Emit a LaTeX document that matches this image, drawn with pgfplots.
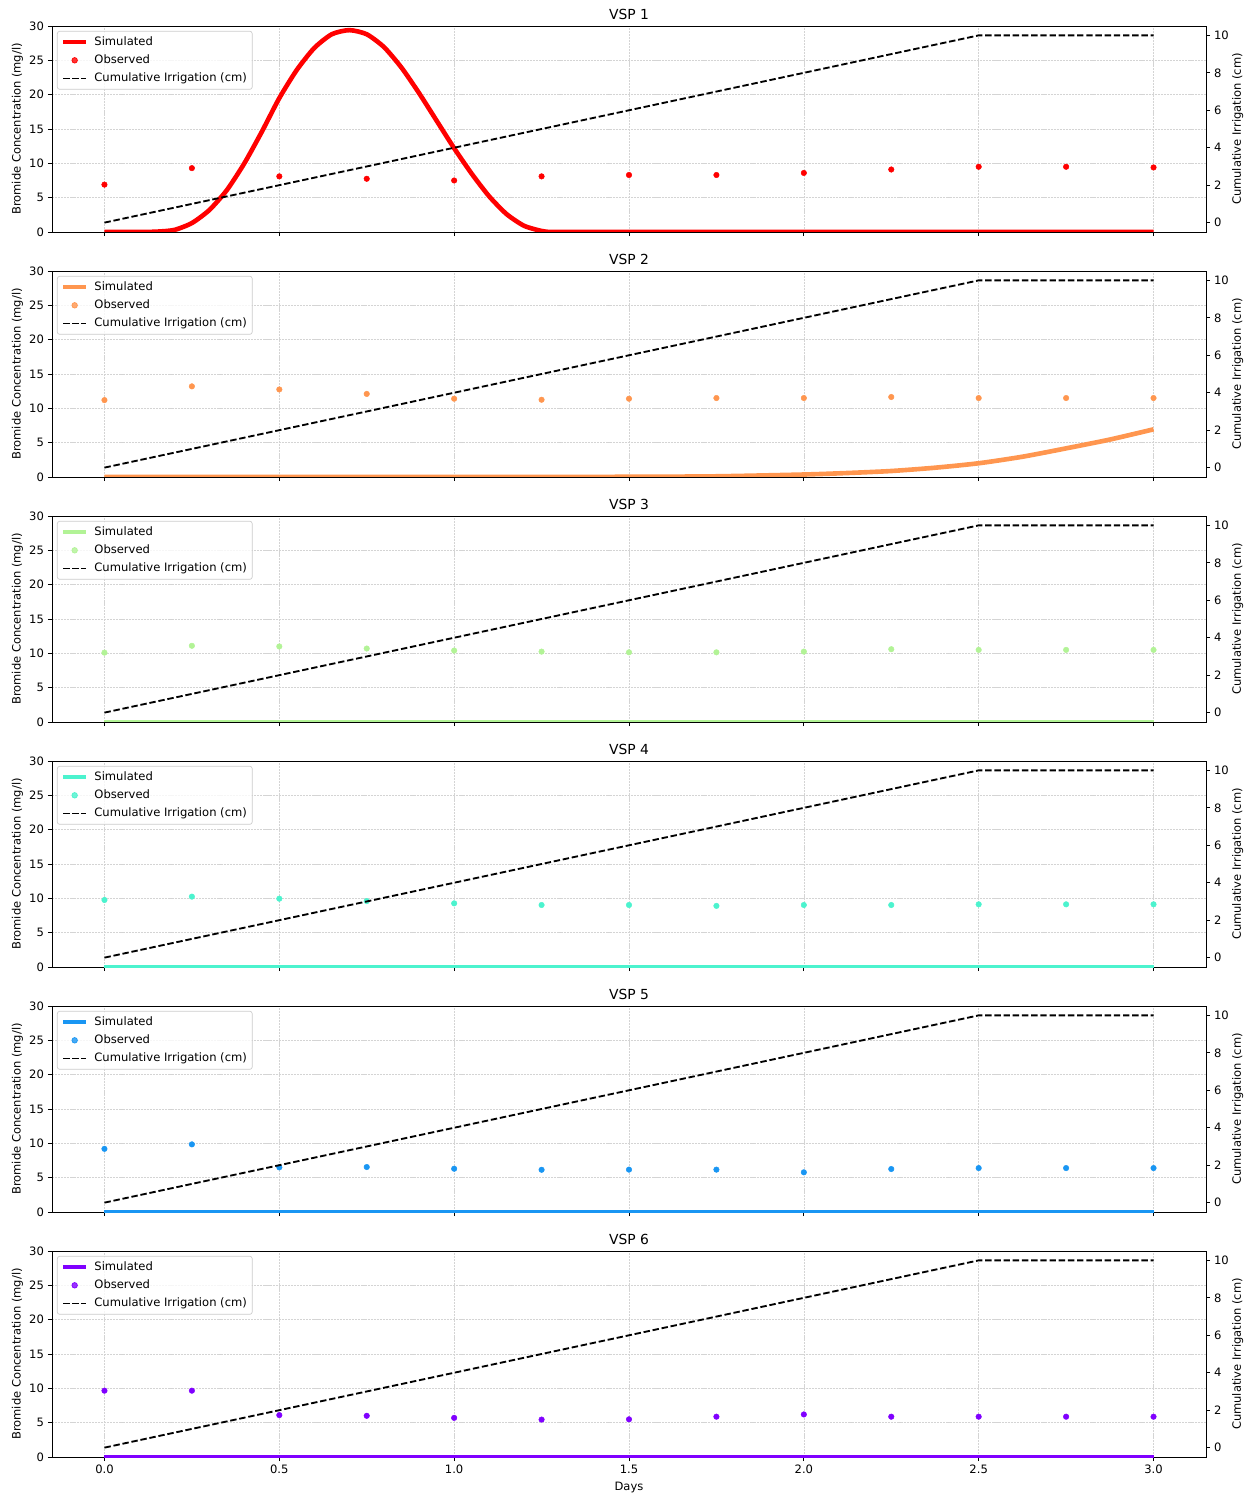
\documentclass[border=0pt]{standalone}
\usepackage{pgfplots}
\usepackage{pgfplotstable}
\pgfplotsset{compat=1.18}
\usepackage{fontspec}
\setmainfont{DejaVu Sans}

\definecolor{c1}{rgb}{1,0,0}
\definecolor{c2}{rgb}{1,0.588,0.309}
\definecolor{c3}{rgb}{0.7,0.951,0.588}
\definecolor{c4}{rgb}{0.3,0.951,0.809}
\definecolor{c5}{rgb}{0.1,0.588,0.951}
\definecolor{c6}{rgb}{0.5,0,1}
\definecolor{gridc}{rgb}{0.83,0.83,0.83}
\definecolor{legc}{rgb}{0.8,0.8,0.8}

\pgfplotstableread{
x y
0 0
0.05 0
0.1 0
0.15 0.05
0.2 0.3
0.25 1.3
0.3 3.2
0.35 6.1
0.4 10.0
0.45 14.6
0.5 19.5
0.55 23.6
0.6 26.8
0.65 28.8
0.7 29.4
0.75 28.8
0.8 26.9
0.85 23.9
0.9 20.2
0.95 16.2
1.0 12.2
1.05 8.5
1.1 5.2
1.15 2.6
1.2 0.9
1.25 0.15
1.28 0
1.4 0
1.6 0
3.0 0
}\simA

\pgfplotstableread{
x y
0 0
0.5 0
1.0 0
1.5 0.03
1.75 0.1
2.0 0.36
2.125 0.58
2.25 0.87
2.375 1.35
2.5 2.0
2.625 2.95
2.75 4.17
2.875 5.45
3.0 6.94
}\simB

\pgfplotstableread{
x y
0 0
3 0
}\simZ

\pgfplotstableread{
x o1 o2 o3 o4 o5 o6
0 6.9 11.2 10.1 9.76 9.2 9.66
0.25 9.3 13.2 11.1 10.25 9.85 9.66
0.5 8.1 12.75 11.0 9.95 6.5 6.1
0.75 7.75 12.1 10.7 9.6 6.55 6.0
1.0 7.5 11.4 10.4 9.27 6.3 5.7
1.25 8.1 11.25 10.25 9.03 6.15 5.45
1.5 8.3 11.4 10.15 9.03 6.17 5.49
1.75 8.3 11.5 10.15 8.9 6.17 5.87
2.0 8.6 11.5 10.25 9.03 5.78 6.2
2.25 9.1 11.65 10.6 9.03 6.26 5.87
2.5 9.5 11.5 10.5 9.13 6.4 5.87
2.75 9.5 11.5 10.5 9.13 6.4 5.87
3.0 9.4 11.5 10.5 9.13 6.4 5.87
}\obs

\pgfplotstableread{
x c
0 0
2.5 10
3 10
}\irr

\pgfplotsset{
  common/.style={
    scale only axis, width=998.4bp, height=178.2bp, anchor=south west,
    xmin=-0.15, xmax=3.15, xtick={0,0.5,1,1.5,2,2.5,3},
    tick align=outside, major tick length=3.5bp,
    major tick style={black, line width=0.8bp},
    axis line style={line width=0.8bp, black},
    tick label style={font=\fontsize{10bp}{12bp}\selectfont, black},
    label style={font=\fontsize{10bp}{12bp}\selectfont},
    /pgf/number format/assume math mode=true,
    scaled ticks=false,
  },
  lineleg/.style={legend image code/.code={\path[draw=none,fill=none] (0bp,0bp) -- (25.5bp,0bp);\draw[##1] (0bp,0bp) -- (20bp,0bp);}},
  dotleg/.style={legend image code/.code={\path[draw=none,fill=none] (0bp,0bp) -- (25.5bp,0bp);\draw[##1] plot coordinates {(10bp,0bp)};}},
}

\newcommand{\panel}[6]{%
\begin{axis}[common, at={(45bp,#1)},
  ymin=0, ymax=30, ytick={0,5,10,15,20,25,30},
  ytick pos=left, xtick pos=bottom,
  grid=major, major grid style={gridc, line width=0.5bp, dash pattern=on 1.85bp off 0.8bp},
  title={VSP #3},
  title style={font=\fontsize{12bp}{14bp}\selectfont, at={(0.5,1)}, anchor=base, yshift=0bp},
  ylabel={Bromide Concentration (mg/l)},
  every axis y label/.style={at={(axis description cs:-0.0299,0.5)}, anchor=center, rotate=90},
  #6]
\addplot[#2, line width=4bp, smooth, tension=0.4] table[x=x,y=y] {#4};
\addplot[only marks, mark=*, mark size=2.4bp, #2] table[x=x,y=#5] {\obs};
\end{axis}
\begin{axis}[common, at={(45bp,#1)},
  ymin=-0.5, ymax=10.5, ytick={0,2,4,6,8,10},
  axis y line*=right, axis x line=none,
  ylabel={Cumulative Irrigation (cm)},
  every axis y label/.style={at={(axis description cs:1.0275,0.5)}, anchor=center, rotate=90},
  legend style={at={(0.0043,0.976)}, anchor=north west, draw=legc, line width=0.6bp,
    rounded corners=2bp, fill=white, fill opacity=0.8, text opacity=1,
    font=\fontsize{10bp}{12bp}\selectfont, inner xsep=3bp, inner ysep=3bp, row sep=2.9bp,
    nodes={inner sep=1.6bp, text height=7.6bp, text depth=2bp}},
  legend cell align=left]
\addlegendimage{#2, line width=4bp, lineleg}
\addlegendentry{Simulated}
\addlegendimage{#2, only marks, mark=*, mark size=2.4bp, dotleg}
\addlegendentry{Observed}
\addplot[black, line width=1.6bp, dash pattern=on 5.55bp off 2.4bp, lineleg] table[x=x,y=c] {\irr};
\addlegendentry{Cumulative Irrigation (cm)}
\end{axis}
}

\begin{document}
\begin{tikzpicture}
\useasboundingbox (0,0) rectangle (1085.8bp,1296bp);
\panel{1095.28bp}{c1}{1}{\simA}{o1}{xticklabels={}}
\panel{883.32bp}{c2}{2}{\simB}{o2}{xticklabels={}}
\panel{671.36bp}{c3}{3}{\simZ}{o3}{xticklabels={}}
\panel{459.39bp}{c4}{4}{\simZ}{o4}{xticklabels={}}
\panel{247.43bp}{c5}{5}{\simZ}{o5}{xticklabels={}}
\panel{35.47bp}{c6}{6}{\simZ}{o6}{xticklabel={\pgfmathprintnumber[fixed,fixed zerofill,precision=1]{\tick}}, xlabel={Days}, every axis x label/.style={at={(axis description cs:0.5,0)}, anchor=center, yshift=-26bp}}
\end{tikzpicture}
\end{document}
